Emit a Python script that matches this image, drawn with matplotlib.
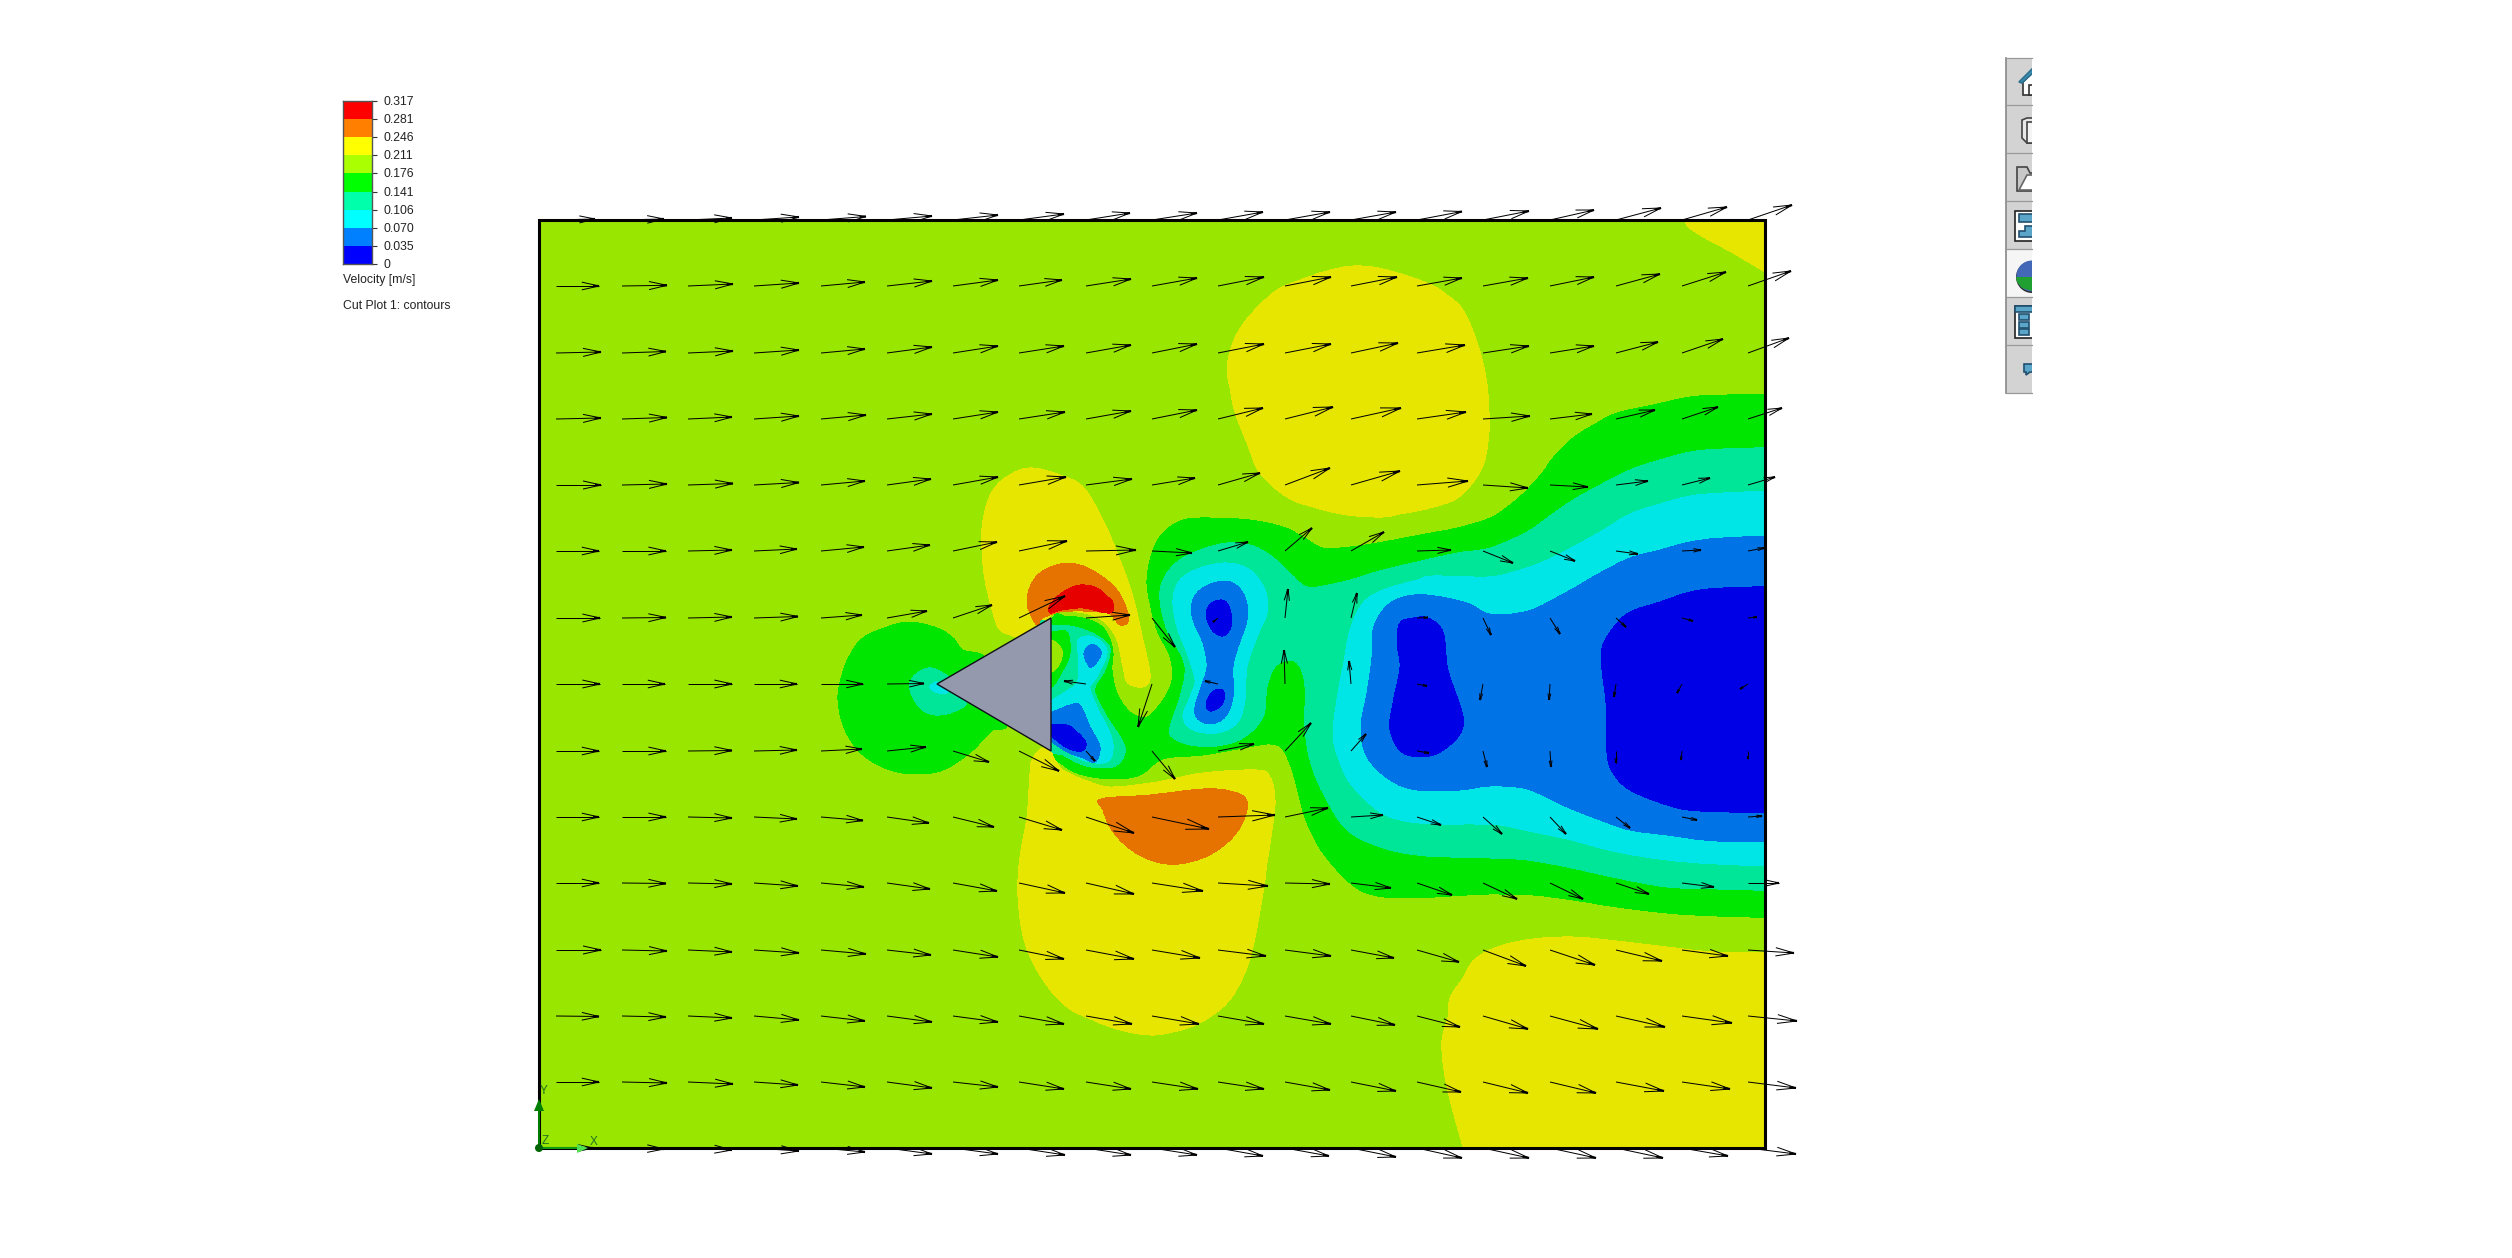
import numpy as np
import matplotlib
matplotlib.use('Agg')
import matplotlib.pyplot as plt
from matplotlib.path import Path
from matplotlib.patches import PathPatch, Polygon, Rectangle, Circle
from matplotlib.collections import LineCollection
from matplotlib.transforms import ScaledTranslation

plt.rcParams['font.family'] = ['Liberation Sans', 'DejaVu Sans']

W, H = 2512, 1258
BOX = (539, 220, 1765, 1148)

# colour legend
LEGEND_LABELS = ['0', '0.035', '0.070', '0.106', '0.141', '0.176', '0.211', '0.246', '0.281', '0.317']
LEGEND_COLORS = ['#0000ff', '#0080ff', '#00ffff', '#00ffaa', '#00ff00', '#aaff00', '#ffff00', '#ff8000', '#ff0000']

LIME = '#99e600'
YELLOW = '#e6e600'
ORANGE = '#e67300'
RED = '#e60000'
GREEN = '#00e600'
TEAL = '#00e699'
CYAN = '#00e6e6'
BLUE = '#0073e6'
DARK = '#0000e6'

# arrow grid
ARROW_X = [556, 622, 688, 754, 821, 887, 953, 1019, 1086, 1152, 1218, 1285, 1351, 1417, 1483, 1550, 1616, 1682, 1748]
ARROW_Y = [220, 286, 353, 419, 485, 551, 618, 684, 751, 817, 883, 950, 1016, 1082, 1148]
nan = float('nan')
DX = np.array([
    [39, 42, 44, 45, 45, 45, 45, 45, 44, 45, 45, 45, 45, 45, 46, 44, 45, 45, 44],
    [43, 45, 45, 45, 44, 45, 45, 43, 45, 45, 46, 46, 46, 45, 45, 44, 44, 44, 43],
    [45, 44, 45, 45, 44, 45, 45, 45, 45, 45, 46, 46, 47, 48, 46, 44, 42, 41, 41],
    [45, 45, 44, 45, 45, 45, 45, 46, 45, 45, 45, 48, 50, 49, 47, 42, 39, 36, 34],
    [45, 45, 45, 45, 44, 44, 45, 47, 46, 43, 42, 45, 49, 51, 45, 38, 32, 28, 27],
    [43, 44, 44, 43, 43, 43, 44, 48, 50, 40, 30, 27, 33, 34, 30, 25, 22, 19, 16],
    [44, 44, 44, 44, 41, 40, 39, 46, 44, 23, -5, 3, 6, 11, 8, 10, 10, 11, 9],
    [44, 43, 44, 43, 42, 37, nan, nan, -22, -14, -13, -1, -2, 10, -3, -1, -2, -5, -8],
    [43, 44, 44, 43, 41, 39, 36, 40, 9, 23, 36, 26, 15, 12, 4, 1, 0, -1, 0],
    [43, 44, 44, 43, 42, 42, 41, 43, 48, 57, 57, 43, 32, 24, 19, 16, 14, 15, 14],
    [43, 44, 44, 44, 43, 43, 44, 46, 48, 51, 50, 45, 40, 35, 34, 33, 33, 32, 31],
    [45, 45, 44, 45, 45, 44, 45, 45, 48, 48, 48, 46, 43, 42, 43, 45, 46, 46, 46],
    [43, 44, 44, 45, 44, 45, 45, 45, 46, 47, 46, 46, 44, 43, 45, 48, 49, 50, 49],
    [43, 45, 45, 44, 44, 45, 45, 45, 45, 46, 46, 45, 45, 44, 45, 46, 48, 48, 48],
    [37, 42, 44, 45, 44, 45, 45, 46, 45, 45, 45, 44, 45, 45, 46, 46, 47, 46, 48],
])
DY = np.array([
    [1, 1, 2, 3, 3.5, 4, 5, 6, 7, 7, 8, 8, 8, 8.5, 9, 10, 12, 13, 15],
    [0, 0.7, 2, 3, 4, 5, 6, 6, 7, 8, 9, 9, 9, 8, 8, 9, 12, 14, 15],
    [1, 1.5, 2, 3, 4, 6, 7, 7, 8, 9, 9, 9, 10, 8, 7, 7, 11, 14, 15],
    [1, 1.5, 2, 3, 4, 5, 7, 7, 8, 9, 11, 12, 11, 7, 3, 5, 9, 12, 11],
    [0, 1, 1.5, 2.5, 4, 6, 8, 8, 6, 7, 12, 17, 14, 4, -3, -2, 4, 7, 8],
    [0, 0, 1, 2, 4, 6, 9, 10, 1, -2, 9, 23, 19, 1, -12, -10, -3, 1, 3],
    [0, 0.5, 1, 1.5, 3, 7, 13, 22, 3, -29, -4, 29, 25, 0.5, -17, -16, -9, -3, 1],
    [0, 0, 0, 0, 0, 0.5, nan, nan, 3, -43, 3, 34, 23, -2, -16, -16, -13, -9, -5],
    [0, 0, 0.5, 1, 2, 4, -11, -20, -10, -28, 7, 28, 17, -2, -16, -16, -12, -9, -8],
    [0, 0, -1, -2, -3.5, -6, -10, -13, -16, -12, 2, 9, 2, -8, -17, -17, -11, -3, 1],
    [0, -0.5, -1, -3, -4, -6, -8, -10, -11, -8, -3, -1, -5, -12, -16, -16, -11, -4, 0],
    [0, -1, -2, -3, -4, -5, -7, -9, -9, -8, -6, -6, -8, -12, -16, -15, -11, -6, -3],
    [-0.5, -1, -2, -4, -5, -6, -6, -8, -8, -8, -8, -8, -9, -11, -13, -13, -11, -7, -5],
    [0, -1, -2, -3, -5, -6, -5, -7, -7, -7, -7, -8, -9, -10, -11, -11, -9, -7, -6],
    [0, -1, -2, -3, -4, -6, -6, -7, -7, -7, -8, -8, -9, -10, -10, -10, -10, -8, -6],
])

# contour band outlines
YELLOW_TOP = [(1353, 266), (1383, 269), (1427, 283), (1447, 295), (1463, 310), (1477, 342), (1486, 378), (1489, 412),
              (1488, 442), (1481, 470), (1459, 497), (1430, 508), (1400, 514), (1383, 517), (1347, 515), (1313, 507),
              (1287, 497), (1260, 473), (1247, 443), (1235, 412), (1230, 388), (1227, 370), (1230, 352), (1238, 332),
              (1253, 312), (1277, 290), (1300, 280), (1327, 271)]
YELLOW_CORNER = [(1685, 222), (1700, 235), (1733, 253), (1765, 272), (1800, 292), (1800, 190), (1675, 190)]
YELLOW_BR = [(1850, 953), (1800, 953), (1717, 952), (1667, 947), (1617, 941), (1573, 937), (1533, 939), (1500, 946),
             (1475, 959), (1463, 978), (1450, 998), (1448, 1017), (1442, 1040), (1444, 1070), (1450, 1100),
             (1463, 1147), (1475, 1190), (1850, 1190)]
YELLOW_LOW = [(1270, 777), (1275, 800), (1272, 830), (1267, 863), (1263, 893), (1253, 947), (1243, 977), (1227, 1003),
              (1200, 1023), (1173, 1032), (1150, 1035), (1120, 1030), (1093, 1020), (1067, 1007), (1043, 980),
              (1025, 943), (1018, 897), (1020, 857), (1027, 817), (1030, 773), (1032, 760), (1042, 748), (1052, 753),
              (1063, 770), (1093, 783), (1113, 787), (1157, 782), (1203, 773), (1257, 770)]
YELLOW_UP = [(1033, 468), (1060, 475), (1083, 487), (1103, 520), (1120, 560), (1133, 597), (1143, 640), (1150, 673),
             (1147, 685), (1137, 687), (1127, 682), (1123, 667), (1118, 643), (1110, 628), (1097, 617), (1077, 612),
             (1052, 613), (1040, 650), (1015, 637), (1000, 630), (993, 613), (985, 580), (982, 550), (983, 520),
             (993, 490), (1013, 473)]
ORANGE_LOW = [(1101, 799), (1150, 795), (1203, 789), (1230, 791), (1246, 799), (1245, 817), (1233, 837), (1213, 853),
              (1190, 862), (1167, 864), (1143, 857), (1123, 843), (1110, 827), (1103, 810)]
ORANGE_UP = [(1027, 603), (1030, 587), (1040, 573), (1060, 564), (1080, 565), (1100, 575), (1117, 590), (1127, 610),
             (1128, 622), (1120, 625), (1113, 617), (1107, 613), (1083, 611), (1060, 612), (1043, 618), (1037, 625),
             (1030, 613)]
RED_UP = [(1050, 605), (1063, 592), (1080, 585), (1097, 588), (1108, 597), (1113, 603), (1110, 613), (1083, 608),
          (1062, 610), (1050, 613)]
GREEN_WAKE = [(1850, 394), (1800, 394), (1727, 395), (1690, 397), (1653, 405), (1617, 413), (1597, 423), (1573, 438),
              (1553, 458), (1543, 472), (1527, 490), (1510, 505), (1490, 518), (1457, 528), (1420, 535), (1383, 542),
              (1350, 547), (1323, 548), (1303, 537), (1283, 527), (1250, 520), (1210, 518), (1183, 520), (1163, 533),
              (1152, 553), (1147, 580), (1150, 603), (1157, 630), (1170, 657), (1172, 680), (1163, 700), (1147, 717),
              (1130, 712), (1117, 693), (1112, 670), (1113, 653), (1109, 637), (1100, 625), (1083, 618), (1067, 617),
              (1052, 620), (1040, 690), (1052, 750), (1063, 765), (1083, 775), (1113, 779), (1140, 775), (1163, 759),
              (1203, 755), (1243, 748), (1270, 744), (1283, 750), (1293, 773), (1300, 800), (1307, 823), (1323, 853),
              (1350, 883), (1373, 895), (1410, 898), (1467, 895), (1490, 894), (1533, 895), (1573, 900), (1617, 907),
              (1667, 913), (1717, 916), (1800, 918), (1850, 918)]
GREEN_APEX = [(842, 675), (850, 655), (863, 638), (887, 627), (910, 622), (937, 628), (953, 638), (963, 650), (985, 657),
              (1000, 690), (1007, 725), (993, 730), (983, 740), (967, 755), (943, 770), (917, 774), (890, 770),
              (863, 755), (845, 730), (838, 700)]
TEAL_APEX = [(910, 690), (913, 677), (928, 668), (943, 673), (965, 690), (967, 703), (953, 712), (935, 715), (920, 708)]
CYAN_APEX = [(930, 686), (937, 682), (947, 688), (947, 693), (938, 693), (932, 690)]
TEAL_WAKE = [(1850, 447), (1800, 447), (1723, 449), (1690, 452), (1653, 462), (1630, 470), (1600, 485), (1573, 500),
             (1547, 518), (1527, 532), (1490, 548), (1457, 553), (1417, 562), (1383, 570), (1350, 580), (1317, 587),
             (1303, 585), (1290, 573), (1270, 555), (1250, 545), (1227, 543), (1200, 550), (1177, 562), (1163, 580),
             (1160, 600), (1167, 630), (1182, 657), (1185, 673), (1180, 697), (1170, 727), (1172, 737), (1190, 745),
             (1217, 746), (1243, 738), (1263, 717), (1267, 687), (1275, 667), (1290, 660), (1300, 667), (1305, 687),
             (1305, 727), (1310, 760), (1323, 793), (1347, 830), (1383, 848), (1417, 855), (1450, 857), (1490, 858),
             (1527, 860), (1567, 867), (1617, 878), (1667, 887), (1717, 889), (1800, 891), (1850, 891)]
CYAN_WAKE = [(1850, 490), (1800, 490), (1723, 493), (1690, 496), (1660, 504), (1630, 514), (1600, 532), (1567, 550),
             (1540, 563), (1513, 572), (1487, 577), (1433, 576), (1417, 580), (1383, 590), (1363, 603), (1350, 630),
             (1343, 667), (1338, 693), (1333, 733), (1338, 757), (1350, 783), (1377, 810), (1400, 820), (1433, 824),
             (1473, 824), (1500, 825), (1533, 832), (1567, 839), (1617, 852), (1667, 860), (1717, 864), (1800, 867),
             (1850, 867)]
BLUE_WAKE = [(1850, 535), (1800, 535), (1723, 538), (1690, 542), (1660, 550), (1630, 558), (1600, 573), (1567, 592),
             (1528, 611), (1490, 614), (1467, 603), (1427, 595), (1400, 598), (1383, 610), (1373, 630), (1372, 657),
             (1367, 693), (1361, 727), (1367, 757), (1390, 780), (1417, 790), (1460, 790), (1490, 786), (1527, 789),
             (1567, 807), (1600, 820), (1630, 830), (1667, 835), (1717, 841), (1800, 842), (1850, 842)]
DARK_RIGHT = [(1850, 586), (1800, 586), (1723, 588), (1690, 592), (1660, 602), (1630, 612), (1613, 628), (1602, 648),
              (1602, 670), (1606, 703), (1607, 753), (1613, 773), (1630, 790), (1667, 805), (1700, 811), (1800, 813),
              (1850, 813)]
DARK_LEFT = [(1400, 623), (1413, 618), (1428, 618), (1443, 632), (1448, 670), (1462, 712), (1462, 730), (1450, 745),
             (1430, 756), (1403, 753), (1390, 730), (1393, 703), (1400, 667), (1397, 643)]
CYAN_VORTEX = [(1173, 600), (1180, 580), (1200, 568), (1227, 563), (1250, 570), (1265, 590), (1267, 613), (1257, 637),
               (1247, 667), (1245, 700), (1237, 723), (1217, 733), (1193, 730), (1183, 717), (1190, 697), (1195, 680),
               (1187, 653), (1177, 627)]
BLUE_VORTEX = [(1192, 603), (1200, 590), (1217, 582), (1233, 583), (1245, 597), (1247, 620), (1238, 647), (1233, 667),
               (1233, 697), (1225, 717), (1210, 724), (1197, 718), (1195, 707), (1200, 690), (1207, 667), (1203, 643),
               (1193, 620)]
DARK_VORTEX_A = [(1206, 613), (1213, 602), (1225, 601), (1231, 613), (1231, 627), (1223, 636), (1212, 630)]
DARK_VORTEX_B = [(1206, 705), (1212, 692), (1223, 690), (1223, 703), (1212, 711)]
TEAL_REAR = [(1040, 625), (1052, 625), (1070, 626), (1090, 632), (1107, 643), (1110, 653), (1105, 670), (1097, 683),
             (1095, 693), (1107, 717), (1122, 740), (1125, 753), (1117, 765), (1103, 768), (1083, 765), (1063, 755),
             (1050, 747), (1040, 690)]
GREEN_REAR = [(1040, 632), (1052, 632), (1067, 632), (1070, 653), (1063, 670), (1052, 687), (1040, 690)]
LIME_REAR = [(1040, 640), (1052, 640), (1062, 650), (1060, 663), (1052, 672), (1040, 672)]
CYAN_REAR = [(1078, 640), (1090, 636), (1103, 643), (1107, 653), (1102, 667), (1095, 680), (1090, 688), (1097, 707),
             (1110, 733), (1113, 750), (1107, 762), (1090, 762), (1073, 755), (1052, 737), (1040, 720), (1040, 703),
             (1052, 700), (1065, 692), (1077, 683), (1078, 667), (1078, 653)]
BLUE_REAR_A = [(1084, 653), (1090, 645), (1098, 647), (1101, 655), (1092, 667), (1087, 663)]
BLUE_REAR_B = [(1040, 714), (1052, 712), (1070, 705), (1080, 705), (1090, 727), (1100, 747), (1095, 762), (1083, 758),
               (1067, 752), (1052, 742), (1040, 735)]
DARK_REAR = [(1040, 725), (1052, 725), (1067, 725), (1078, 733), (1086, 743), (1082, 751), (1067, 748), (1052, 737),
             (1040, 733)]
TRIANGLE = [(937, 684), (1051, 618), (1051, 751)]

BANDS = [
    (YELLOW, [YELLOW_TOP, YELLOW_CORNER, YELLOW_BR, YELLOW_LOW, YELLOW_UP]),
    (ORANGE, [ORANGE_LOW, ORANGE_UP]),
    (RED, [RED_UP]),
    (GREEN, [GREEN_WAKE, GREEN_APEX]),
    (TEAL, [TEAL_WAKE, TEAL_APEX, TEAL_REAR]),
    (GREEN, [GREEN_REAR]),
    (LIME, [LIME_REAR]),
    (CYAN, [CYAN_WAKE, CYAN_APEX, CYAN_VORTEX, CYAN_REAR]),
    (BLUE, [BLUE_WAKE, BLUE_VORTEX, BLUE_REAR_A, BLUE_REAR_B]),
    (DARK, [DARK_RIGHT, DARK_LEFT, DARK_VORTEX_A, DARK_VORTEX_B, DARK_REAR]),
]


def smooth_path(pts):
    # closed catmull-rom curve through the traced points
    p = np.array(pts, dtype=float)
    n = len(p)
    verts = [p[0]]
    codes = [Path.MOVETO]
    for i in range(n):
        p0, p1, p2, p3 = p[i - 1], p[i], p[(i + 1) % n], p[(i + 2) % n]
        verts += [p1 + (p2 - p0) / 6, p2 - (p3 - p1) / 6, p2]
        codes += [Path.CURVE4] * 3
    return Path(verts, codes)


fig = plt.figure(figsize=(W / 100, H / 100), dpi=100, facecolor='white')
ax = fig.add_axes([0, 0, 1, 1])
ax.set_xlim(0, W)
ax.set_ylim(H, 0)
ax.axis('off')

x0, y0, x1, y1 = BOX
clip = Rectangle((x0, y0), x1 - x0, y1 - y0, transform=ax.transData)
ax.add_patch(Rectangle((x0, y0), x1 - x0, y1 - y0, fc=LIME, ec='none', zorder=1))
for color, outlines in BANDS:
    for outline in outlines:
        patch = PathPatch(smooth_path(outline), fc=color, ec='none', zorder=2, antialiased=False)
        ax.add_patch(patch)
        patch.set_clip_path(clip)

ax.add_patch(Polygon(TRIANGLE, closed=True, fc='#9599ae', ec='#101018', lw=1.0, zorder=3))

# arrows: shaft, two barbs and a heavier tip
thin = []
thick = []
for r, y in enumerate(ARROW_Y):
    for c, x in enumerate(ARROW_X):
        dx, dy = DX[r, c], DY[r, c]
        if np.isnan(dx):
            continue
        tail = np.array([x, y], dtype=float)
        tip = tail + [dx, -dy]
        along = tip - tail
        side = np.array([-along[1], along[0]])
        thin.append([tail, tip])
        thin.append([tip, tip - 0.4 * along + 0.09 * side])
        thin.append([tip, tip - 0.4 * along - 0.09 * side])
        thick.append([tip - 0.14 * along, tip])
ax.add_collection(LineCollection(thin, colors='black', linewidths=0.72, zorder=4))
ax.add_collection(LineCollection(thick, colors='black', linewidths=1.6, zorder=4))

ax.add_patch(Rectangle((x0, y0), x1 - x0, y1 - y0, fc='none', ec='black', lw=2.2, zorder=5))

# xyz triad in the corner
ax.plot([x0, x0], [y1, 1105], color='#008000', lw=1.4, zorder=6)
ax.plot([x0, 580], [y1, y1], color='#10a010', lw=1.4, zorder=6)
ax.add_patch(Polygon([(539, 1099), (534, 1111), (544, 1111)], fc='#008000', ec='none', zorder=6))
ax.add_patch(Polygon([(577, 1144), (577, 1153), (588, 1148)], fc='#50e050', ec='none', zorder=6))
ax.add_patch(Circle((x0, y1), 4, fc='#006400', ec='none', zorder=7))
ax.text(544, 1091, 'Y', color='#207020', fontsize=8.5, ha='center', va='center', zorder=7)
ax.text(545, 1141, 'Z', color='#207020', fontsize=8.5, ha='center', va='center', zorder=7)
ax.text(594, 1142, 'X', color='#207020', fontsize=8.5, ha='center', va='center', zorder=7)

# legend bar
cax = fig.add_axes([343 / W, 1 - 264 / H, 29 / W, 163 / H])
cax.barh(np.arange(len(LEGEND_COLORS)) + 0.5, 1, height=1, color=LEGEND_COLORS)
cax.set_xlim(0, 1)
cax.set_ylim(0, len(LEGEND_COLORS))
cax.set_xticks([])
cax.yaxis.tick_right()
cax.set_yticks(np.arange(len(LEGEND_LABELS)))
cax.set_yticklabels(LEGEND_LABELS, fontsize=8.8, color='#222222')
cax.tick_params(axis='y', length=3.5, width=0.8, color='#333333', pad=4.5)
up = ScaledTranslation(0, 0.5 / 100, fig.dpi_scale_trans)
for lab in cax.get_yticklabels():
    lab.set_transform(lab.get_transform() + up)
for s in cax.spines.values():
    s.set_color('#555555')
    s.set_linewidth(1.0)
ax.text(343, 280, 'Velocity [m/s]', fontsize=8.8, color='#222222', va='center')
ax.text(343, 306, 'Cut Plot 1: contours', fontsize=8.8, color='#222222', va='center')

# cut off toolbar on the right
tx0, tx1 = 2006, 2032
cells = [58, 105, 153, 201, 249, 297, 345, 393]
tb_clip = Rectangle((tx0, cells[0]), tx1 - tx0, cells[-1] - cells[0], transform=ax.transData)
for i in range(7):
    face = '#f5f5f5' if i == 4 else '#d3d3d3'
    ax.add_patch(Rectangle((tx0, cells[i]), tx1 - tx0, cells[i + 1] - cells[i], fc=face, ec='none', zorder=1))
ax.plot([tx0, tx0], [cells[0], cells[-1]], color='#888888', lw=1.2, zorder=2)
for yy in cells:
    ax.plot([tx0, tx1], [yy, yy], color='#999999', lw=0.9, zorder=2)


def icon(pts, fc='none', ec='#333333', lw=1.2):
    p = ax.add_patch(Polygon(pts, closed=True, fc=fc, ec=ec, lw=lw, zorder=3))
    p.set_clip_path(tb_clip)


# house
icon([(2023, 82), (2023, 95), (2035, 95), (2035, 70)], fc='white')
icon([(2019, 82), (2033, 68), (2035, 71), (2022, 83)], fc='#3e8fb0', ec='#2b6f90')
icon([(2029, 85), (2029, 95), (2035, 95), (2035, 85)], fc='white')
# box
icon([(2022, 120), (2027, 118), (2035, 118), (2035, 143), (2027, 143), (2022, 138)], fc='#e8e8e8', ec='#444444')
icon([(2027, 122), (2027, 143), (2035, 143), (2035, 122)], fc='#f4f4f4', ec='#444444')
# folder
icon([(2017, 167), (2027, 167), (2030, 173), (2035, 173), (2035, 191), (2017, 191)], fc='#c8c8c8', ec='#444444')
icon([(2019, 190), (2027, 175), (2035, 175), (2035, 190)], fc='white', ec='#666666')
# tree
icon([(2015, 211), (2035, 211), (2035, 241), (2015, 241)], fc='white', ec='#222222')
icon([(2019, 214), (2035, 214), (2035, 222), (2019, 222)], fc='#5aa5c8', ec='#205070')
icon([(2019, 237), (2019, 231), (2025, 231), (2025, 226), (2035, 226), (2035, 237)], fc='#5aa5c8', ec='#205070')
# sphere
shadow = Circle((2032, 277), 16, fc='#303030', ec='none', zorder=3)
top = Circle((2032, 276), 15.5, fc='#4468b8', ec='none', zorder=3)
ax.add_patch(shadow)
ax.add_patch(top)
shadow.set_clip_path(tb_clip)
top.set_clip_path(tb_clip)
low = Polygon([(2016, 277), (2032, 277), (2032, 291), (2022, 288), (2017, 282)], fc='#20a030', ec='none', zorder=3)
ax.add_patch(low)
low.set_clip_path(tb_clip)
# table
icon([(2015, 306), (2035, 306), (2035, 338), (2015, 338)], fc='white', ec='#222222')
icon([(2015, 306), (2035, 306), (2035, 312), (2015, 312)], fc='#5aa5c8', ec='#205070')
for yy in [314, 322, 329]:
    icon([(2019, yy), (2029, yy), (2029, yy + 6), (2019, yy + 6)], fc='#5aa5c8', ec='#205070')
# comment
icon([(2024, 364), (2035, 364), (2035, 372), (2030, 372), (2026, 375), (2026, 372), (2024, 372)], fc='#5aa5c8', ec='#205070')

fig.savefig('out.png', dpi=100, facecolor='white')
